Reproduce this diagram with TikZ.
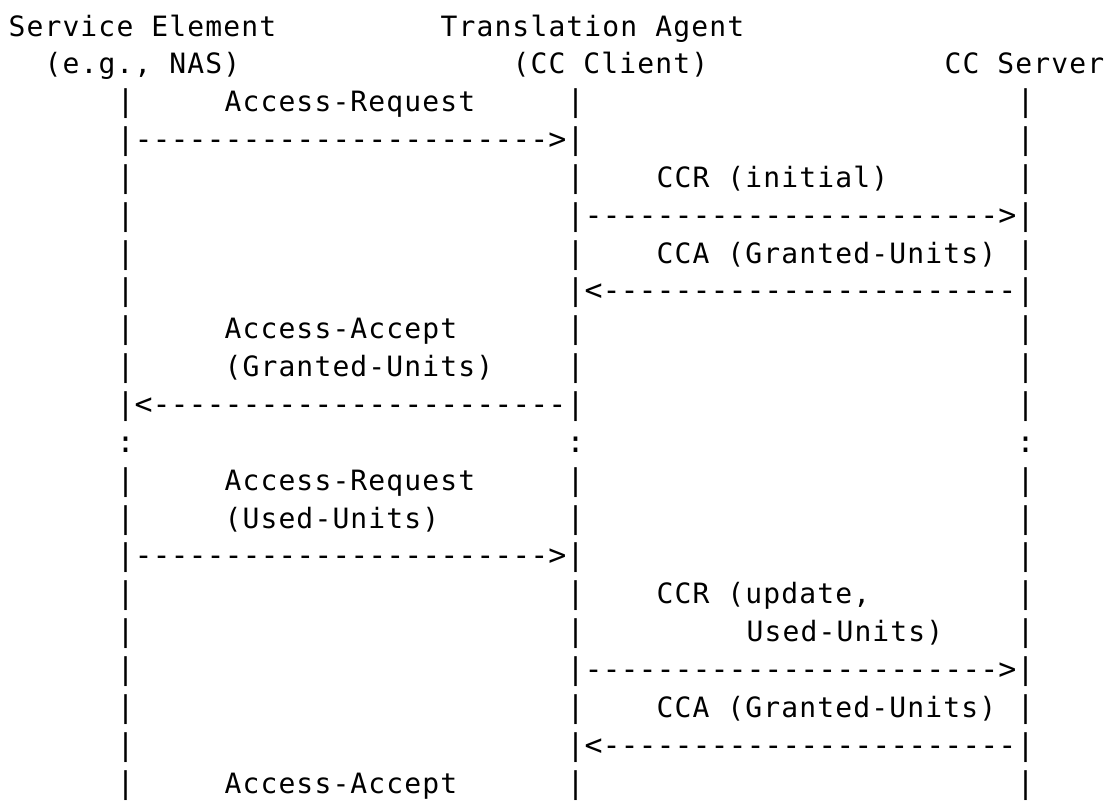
\documentclass[tikz,border=0pt]{standalone}
\usepackage{fontspec}
\setmonofont{DejaVu Sans Mono}
\newfontfamily\labelfont[LetterSpace=4.07]{DejaVu Sans Mono}
\usepackage{tikz}
\usetikzlibrary{positioning}
\tikzstyle{wire}=[font=\ttfamily\fontsize{22.42pt}{28pt}\selectfont,anchor=base west,inner sep=0pt,outer sep=0pt,text=black]
\tikzstyle{ascii}=[wire,font=\labelfont\fontsize{21pt}{28pt}\selectfont]
\newcommand{\dashline}{-----------------------}

\begin{document}
\begin{tikzpicture}[x=13.5pt,y=-28.39pt]
\fill[white] (-6.4pt,27pt) rectangle (828.35pt,-573pt);
\useasboundingbox (-6.4pt,27pt) rectangle (828.35pt,-573pt);
        \node[ascii] (se) at (0,0) {Service Element};
        \node[ascii] (ta) at (24,0) {Translation Agent};
        \node[ascii] (nas) at (2,1) {(e.g., NAS)};
        \node[ascii] (ccc) at (28,1) {(CC Client)};
        \node[ascii] (ccs) at (52,1) {CC Server};
        % lifelines
        \foreach \c/\n in {6/se, 31/ta, 56/cs}{
          \foreach \r in {2,3,4,5,6,7,8,9,10,12,13,14,15,16,17,18,19,20}
            \node[wire] (\n\r) at (\c,\r) {|};
          \node[wire] (\n11) at (\c,11) {:};
        }
        % messages
        \node[wire] (req1) at (se3.base east) {\dashline>};
        \node[wire] (ccr1) at (ta5.base east) {\dashline>};
        \node[wire] (cca1) at (ta7.base east) {<\dashline};
        \node[wire] (acc1) at (se10.base east) {<\dashline};
        \node[wire] (req2) at (se14.base east) {\dashline>};
        \node[wire] (ccr2) at (ta17.base east) {\dashline>};
        \node[wire] (cca2) at (ta19.base east) {<\dashline};
        % labels
        \node[ascii] (lreq1) at (12,2) {Access-Request};
        \node[ascii] (lccr1) at (36,4) {CCR (initial)};
        \node[ascii] (lcca1) at (36,6) {CCA (Granted-Units)};
        \node[ascii] (lacc1) at (12,8) {Access-Accept};
        \node[ascii] (lgu1) at (12,9) {(Granted-Units)};
        \node[ascii] (lreq2) at (12,12) {Access-Request};
        \node[ascii] (luu2) at (12,13) {(Used-Units)};
        \node[ascii] (lccr2) at (36,15) {CCR (update,};
        \node[ascii] (luu3) at (41,16) {Used-Units)};
        \node[ascii] (lcca2) at (36,18) {CCA (Granted-Units)};
        \node[ascii] (lacc2) at (12,20) {Access-Accept};
      \end{tikzpicture}
\end{document}
